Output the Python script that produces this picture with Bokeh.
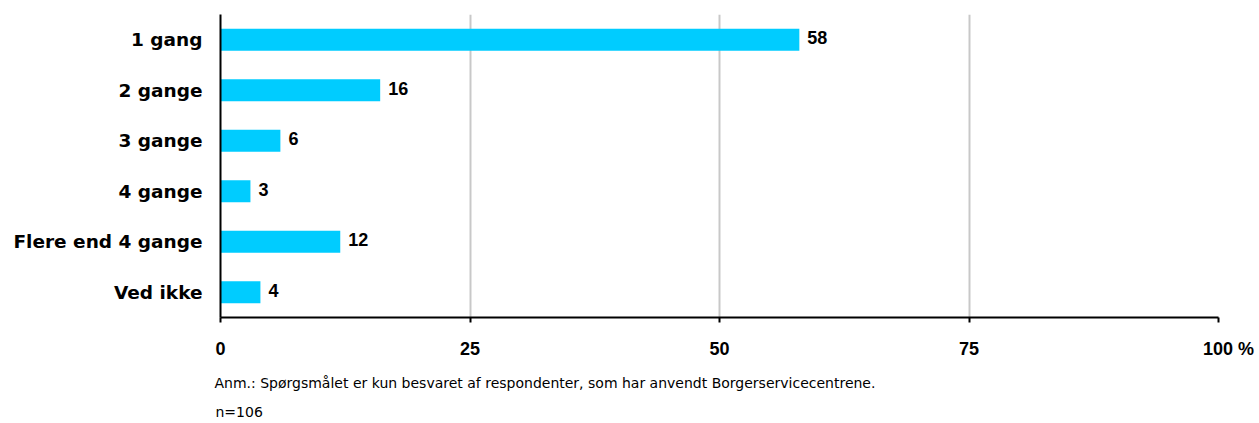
from bokeh.plotting import figure
from bokeh.models import ColumnDataSource, FactorRange, Title, FixedTicker
from bokeh.core.properties import value
from bokeh.embed import file_html
from bokeh.resources import INLINE

categories = ["1 gang", "2 gange", "3 gange", "4 gange", "Flere end 4 gange", "Ved ikke"]
values = [58, 16, 6, 3, 12, 4]
tick_values = [0, 25, 50, 75, 100]
tick_labels = ["0", "25", "50", "75", "\u2007\u2007100 %"]
note = "Anm.: Spørgsmålet er kun besvaret af respondenter, som har anvendt Borgerservicecentrene."
n_text = "n=106"

src = ColumnDataSource(dict(cat=categories, val=values, lbl=[str(v) for v in values]))

p = figure(width=1259, height=423, output_backend="svg", toolbar_location=None,
           y_range=FactorRange(*reversed(categories), range_padding=0),
           x_range=(0, 100),
           min_border_left=220, min_border_right=41, min_border_top=14, min_border_bottom=106)
p.outline_line_color = None
p.background_fill_color = "white"
p.border_fill_color = "white"

p.hbar(y="cat", right="val", left=0, height=0.44, source=src, color="#00CCFF", line_color=None)
p.text(x="val", y="cat", text="lbl", source=src, x_offset=8, y_offset=-2,
       text_align="left", text_baseline="middle", text_font=value("Liberation Sans"),
       text_font_style="bold", text_font_size="18px", text_color="black")

p.ygrid.grid_line_color = None
p.xgrid.grid_line_color = "#c8c8c8"
p.xgrid.grid_line_width = 2
p.xaxis.ticker = FixedTicker(ticks=tick_values)
p.xaxis.major_label_overrides = dict(zip(tick_values, tick_labels))
p.xaxis.axis_line_width = 2
p.xaxis.axis_line_color = "black"
p.xaxis.major_tick_line_width = 2
p.xaxis.major_tick_out = 5
p.xaxis.major_tick_in = 0
p.xaxis.minor_tick_line_color = None
p.xaxis.major_label_text_font = "Liberation Sans"
p.xaxis.major_label_text_font_style = "bold"
p.xaxis.major_label_text_font_size = "18px"
p.xaxis.major_label_text_color = "black"
p.xaxis.major_label_standoff = 16

p.yaxis.axis_line_width = 2
p.yaxis.axis_line_color = "black"
p.yaxis.major_tick_line_color = None
p.yaxis.minor_tick_line_color = None
p.yaxis.major_tick_out = 0
p.yaxis.major_label_text_font = "DejaVu Sans"
p.yaxis.major_label_text_font_style = "bold"
p.yaxis.major_label_text_font_size = "18.5px"
p.yaxis.major_label_text_color = "black"
p.yaxis.major_label_standoff = 18

t1 = Title(text=note, align="left", offset=-6, standoff=22,
           text_font="DejaVu Sans", text_font_size="14px", text_font_style="normal",
           text_color="black")
t2 = Title(text=n_text, align="left", offset=-5, standoff=1,
           text_font="DejaVu Sans", text_font_size="14px", text_font_style="normal",
           text_color="black")
p.add_layout(t1, "below")
p.add_layout(t2, "below")

open("out.html", "w").write(file_html(p, INLINE))
